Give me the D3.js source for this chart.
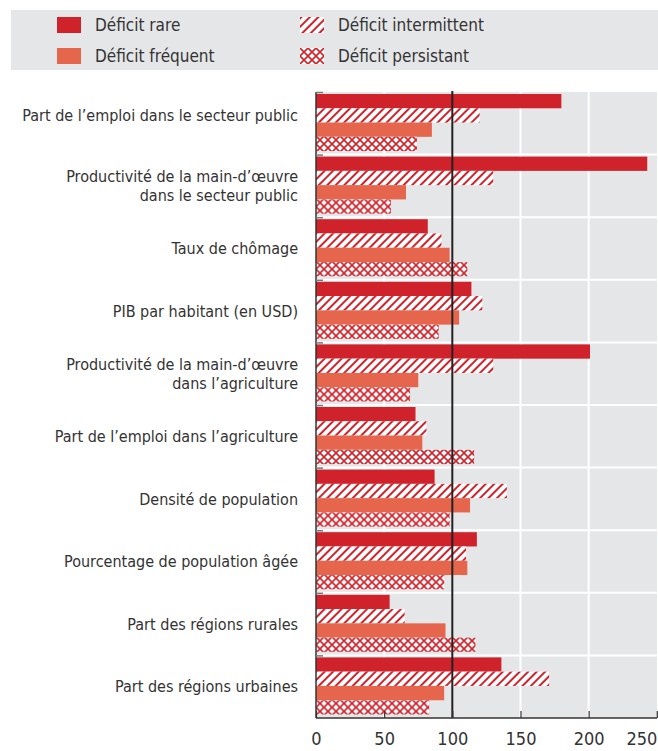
<!DOCTYPE html>
<html>
<head>
<meta charset="utf-8">
<script src="https://cdn.jsdelivr.net/npm/d3@7"></script>
<style>
  body { margin: 0; background: #fff; }
  text { font-family: "Liberation Sans Narrow", "DejaVu Sans Condensed", "Roboto", sans-serif; fill: #333; }
</style>
</head>
<body>
<div id="graph"></div>
<script>
const categories = [
  ["Part de l\u2019emploi dans le secteur public"],
  ["Productivit\u00e9 de la main-d\u2019\u0153uvre", "dans le secteur public"],
  ["Taux de ch\u00f4mage"],
  ["PIB par habitant (en USD)"],
  ["Productivit\u00e9 de la main-d\u2019\u0153uvre", "dans l\u2019agriculture"],
  ["Part de l\u2019emploi dans l\u2019agriculture"],
  ["Densit\u00e9 de population"],
  ["Pourcentage de population \u00e2g\u00e9e"],
  ["Part des r\u00e9gions rurales"],
  ["Part des r\u00e9gions urbaines"]
];
const seriesNames = ["D\u00e9ficit rare", "D\u00e9ficit intermittent", "D\u00e9ficit fr\u00e9quent", "D\u00e9ficit persistant"];
const rareValues         = [180, 243, 82, 114, 201, 73, 87, 118, 54, 136];
const intermittentValues = [120, 130, 92, 122, 130, 81, 140, 110, 65, 171];
const frequentValues     = [85, 66, 98, 105, 75, 78, 113, 111, 95, 94];
const persistentValues   = [74, 55, 111, 90, 69, 116, 98, 94, 117, 83];
const xTicks = [0, 50, 100, 150, 200, 250];

const width = 658, height = 751;
const config = { left: 316, right: 657, top: 92, bottom: 718 };
const red = "#d0222b", orange = "#e5654d";

const svg = d3.select("#graph").append("svg")
  .attr("width", width).attr("height", height);

const defs = svg.append("defs");
const stripes = defs.append("pattern").attr("id", "stripes")
  .attr("patternUnits", "userSpaceOnUse").attr("width", 6).attr("height", 6)
  .attr("patternTransform", "rotate(45)");
stripes.append("rect").attr("width", 6).attr("height", 6).attr("fill", "#fff");
stripes.append("rect").attr("x", 0).attr("width", 2).attr("height", 6).attr("fill", red);

const cross = defs.append("pattern").attr("id", "cross")
  .attr("patternUnits", "userSpaceOnUse").attr("width", 8).attr("height", 8);
cross.append("rect").attr("width", 8).attr("height", 8).attr("fill", "#fff");
cross.append("path").attr("d", "M0,0L8,8M8,0L0,8").attr("stroke", red).attr("stroke-width", 1.6);

const fills = { [seriesNames[0]]: red, [seriesNames[1]]: "url(#stripes)", [seriesNames[2]]: orange, [seriesNames[3]]: "url(#cross)" };

// legend
svg.append("rect").attr("x", 11).attr("y", 10).attr("width", 647).attr("height", 60).attr("fill", "#e5e6e8");
const legendItems = [
  { name: seriesNames[0], x: 57, y: 17 },
  { name: seriesNames[2], x: 57, y: 48 },
  { name: seriesNames[1], x: 300, y: 17 },
  { name: seriesNames[3], x: 300, y: 48 }
];
const lg = svg.selectAll(".legend-entry").data(legendItems).enter().append("g")
  .attr("class", "legend-entry")
  .attr("transform", d => `translate(${d.x},${d.y})`);
lg.append("rect").attr("width", 24).attr("height", 16).attr("fill", d => fills[d.name]);
lg.append("text").attr("x", 38).attr("y", 8).attr("dy", "0.35em")
  .style("font-size", "17px").text(d => d.name);

// scales
const x = d3.scaleLinear().domain([0, 250]).range([config.left, config.left + 340.8]);
const y = d3.scaleBand().domain(d3.range(categories.length)).range([config.top, config.bottom]);
const inner = d3.scaleBand().domain(seriesNames).range([2, y.bandwidth() - 3.5]);

// background + grid
svg.append("rect").attr("x", config.left).attr("y", config.top)
  .attr("width", config.right - config.left).attr("height", config.bottom - config.top)
  .attr("fill", "#e5e6e8");
svg.selectAll(".vgrid").data([50, 150, 200]).enter().append("line")
  .attr("x1", d => x(d)).attr("x2", d => x(d))
  .attr("y1", config.top).attr("y2", config.bottom)
  .attr("stroke", "#fff").attr("stroke-width", 2);
svg.selectAll(".hgrid").data(d3.range(1, categories.length)).enter().append("line")
  .attr("x1", config.left).attr("x2", config.right)
  .attr("y1", d => y(d)).attr("y2", d => y(d))
  .attr("stroke", "#fff").attr("stroke-width", 2);

// bars
const table = categories.map((c, i) => [
  { s: seriesNames[0], v: rareValues[i] },
  { s: seriesNames[1], v: intermittentValues[i] },
  { s: seriesNames[2], v: frequentValues[i] },
  { s: seriesNames[3], v: persistentValues[i] }
]);
const groups = svg.selectAll(".cat").data(table).enter().append("g")
  .attr("transform", (d, i) => `translate(0,${y(i)})`);
groups.selectAll("rect").data(d => d).enter().append("rect")
  .attr("x", x(0)).attr("y", d => inner(d.s))
  .attr("width", d => x(d.v) - x(0)).attr("height", inner.bandwidth())
  .attr("fill", d => fills[d.s]);

// reference line at 100
svg.append("line").attr("x1", x(100)).attr("x2", x(100))
  .attr("y1", config.top - 1).attr("y2", config.bottom)
  .attr("stroke", "#222").attr("stroke-width", 2);

// left axis with small inner ticks
svg.append("line").attr("x1", config.left).attr("x2", config.left)
  .attr("y1", config.top).attr("y2", config.bottom)
  .attr("stroke", "#333").attr("stroke-width", 1.5);
svg.selectAll(".ltick").data(d3.range(0, categories.length)).enter().append("line")
  .attr("x1", config.left).attr("x2", config.left + 7)
  .attr("y1", d => y(d) + 0.5).attr("y2", d => y(d) + 0.5)
  .attr("stroke", "#777").attr("stroke-width", 1.5);

// category labels (first one sits a bit high in the original)
const labels = svg.selectAll(".cat-label").data(categories).enter().append("text")
  .attr("text-anchor", "end")
  .style("font-size", "16px")
  .attr("transform", (d, i) => `translate(298,${y(i) + y.bandwidth() / 2 - (i === 0 ? 8 : 0)})`);
labels.selectAll("tspan").data(d => d).enter().append("tspan")
  .attr("x", 0)
  .attr("y", (t, j, nodes) => (j - (nodes.length - 1) / 2) * 18.5)
  .attr("dy", "0.35em")
  .text(t => t);

// bottom axis
const xAxis = d3.axisBottom(x).tickValues(xTicks).tickSizeInner(-7).tickSizeOuter(0).tickPadding(14);
const gx = svg.append("g").attr("transform", `translate(0,${config.bottom})`).call(xAxis);
gx.select(".domain").attr("stroke", "#333").attr("stroke-width", 1.5).attr("d", `M${config.left},0H${config.right}`);
gx.selectAll(".tick line").attr("stroke", "#333").attr("stroke-width", 1.2);
gx.selectAll(".tick text").style("font-size", "18px").attr("fill", "#333")
  .attr("font-family", null)
  .attr("text-anchor", d => d === 250 ? "end" : "middle");
</script>
</body>
</html>
